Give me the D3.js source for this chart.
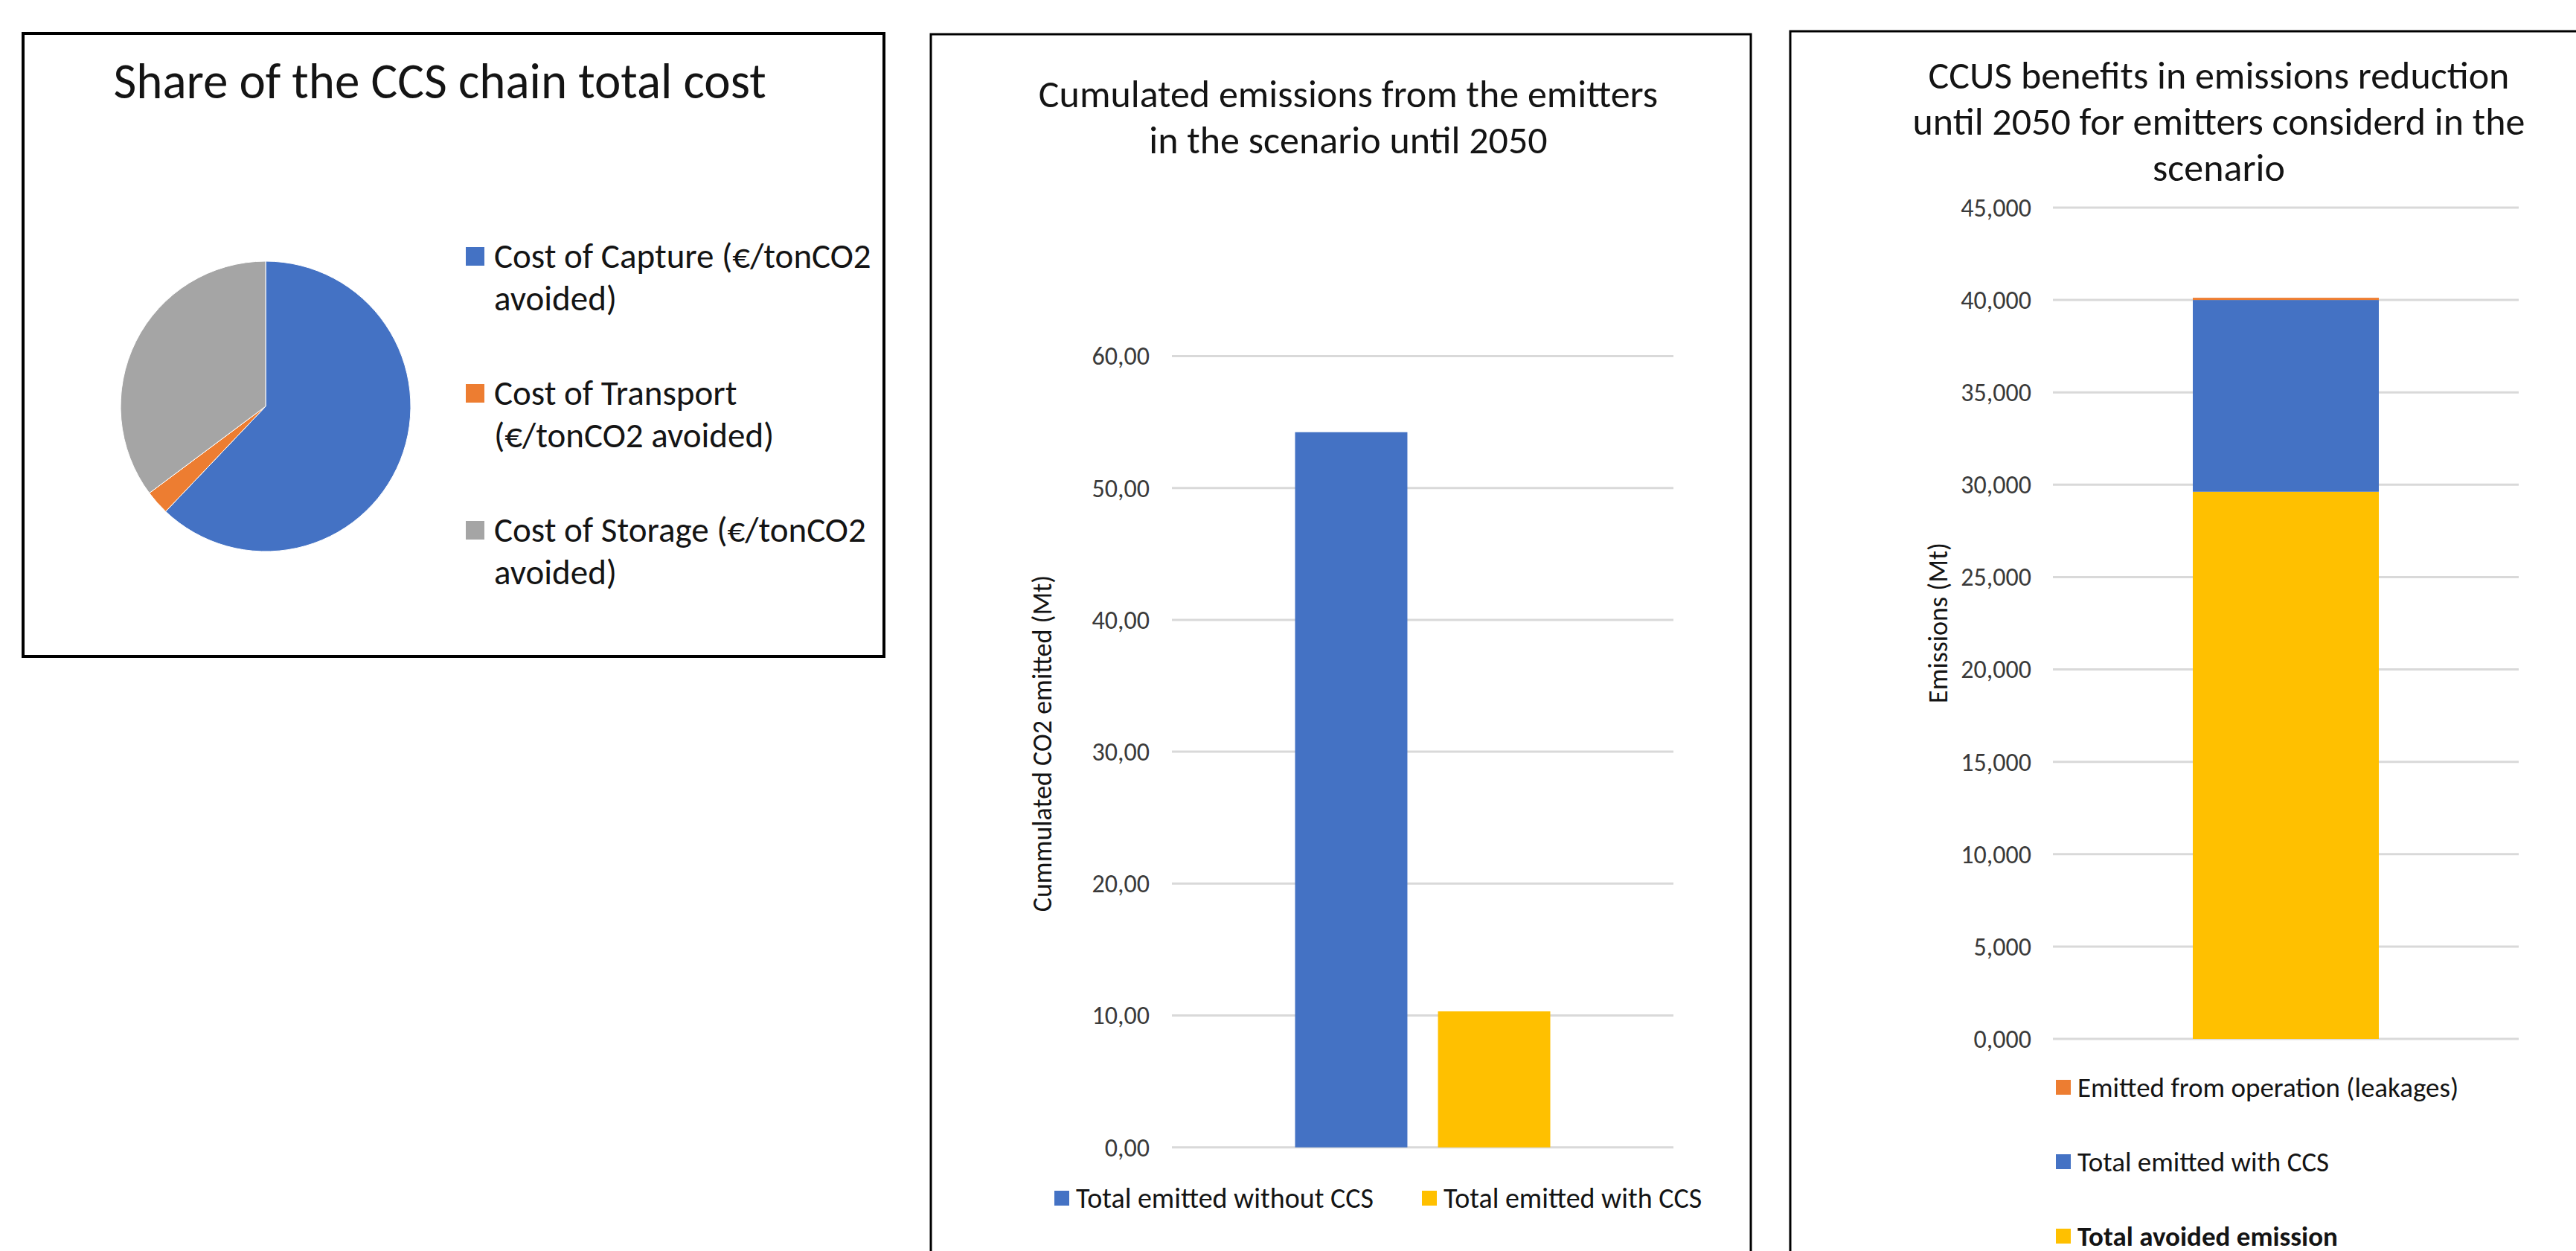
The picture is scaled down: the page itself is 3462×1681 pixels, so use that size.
<!DOCTYPE html>
<html>
<head>
<meta charset="utf-8">
<script src="https://cdn.jsdelivr.net/npm/d3@7"></script>
<style>
    body { margin: 0; background: #fff; }
    text { font-family: Calibri, Carlito, Lato, sans-serif; }
</style>
</head>
<body>
<svg id="chart" width="3462" height="1681"></svg>
<script>
// Share of the CCS chain total cost (pie)
var costLabels = [
    ["Cost of Capture (€/tonCO2", "avoided)"],
    ["Cost of Transport", "(€/tonCO2 avoided)"],
    ["Cost of Storage (€/tonCO2", "avoided)"]
];
var costShares = [62.1, 2.7, 35.2];
var costColors = ["#4472C4", "#ED7D31", "#A5A5A5"];
var costTitle = ["Share of the CCS chain total cost"];

// Cumulated emissions (clustered bars)
var emitSeries = ["Total emitted without CCS", "Total emitted with CCS"];
var emitValues = [54.23, 10.31];
var emitColors = ["#4472C4", "#FFC000"];
var emitTicks = [0, 10, 20, 30, 40, 50, 60];
var emitTitle = ["Cumulated emissions from the emitters", "in the scenario until 2050"];
var emitAxisTitle = "Cummulated CO2 emitted (Mt)";

// CCUS benefits (stacked bar), bottom to top
var benefitSeries = ["Total avoided emission", "Total emitted with CCS", "Emitted from operation (leakages)"];
var benefitValues = [29.62, 10.38, 0.12];
var benefitColors = ["#FFC000", "#4472C4", "#ED7D31"];
var benefitTicks = [0, 5, 10, 15, 20, 25, 30, 35, 40, 45];
var benefitTitle = ["CCUS benefits in emissions reduction", "until 2050 for emitters considerd in the", "scenario"];
var benefitAxisTitle = "Emissions (Mt)";

var textColor = "#141414";
var tickColor = "#3a3a3a";
var gridColor = "#D9D9D9";

var svg = d3.select("#chart");
var euro = d3.formatLocale({decimal: ",", thousands: ".", grouping: [3], currency: ["", " €"]});

function drawTitle(g, lines, cx, y0, lineH, size) {
    g.selectAll("text.title")
        .data(lines)
        .enter()
    .append("text")
        .attr("class", "title")
        .attr("x", cx)
        .attr("y", function (d, i) { return y0 + i * lineH; })
        .attr("dy", "0.35em")
        .attr("text-anchor", "middle")
        .attr("font-size", size)
        .attr("fill", textColor)
        .text(function (d) { return d; });
}

function drawGrid(g, y, ticks, x0, x1, fmt, labelX) {
    g.selectAll("line.grid")
        .data(ticks)
        .enter()
    .append("line")
        .attr("class", "grid")
        .attr("x1", x0)
        .attr("x2", x1)
        .attr("y1", function (d) { return y(d); })
        .attr("y2", function (d) { return y(d); })
        .style("stroke", gridColor)
        .style("stroke-width", 3);
    g.selectAll("text.tick")
        .data(ticks)
        .enter()
    .append("text")
        .attr("class", "tick")
        .attr("x", labelX)
        .attr("y", function (d) { return y(d); })
        .attr("dy", "0.35em")
        .attr("text-anchor", "end")
        .attr("font-size", 34)
        .attr("fill", tickColor)
        .text(function (d) { return fmt(d); });
}

function drawAxisTitle(g, label, x, y) {
    g.append("text")
        .attr("transform", "translate(" + x + "," + y + ") rotate(-90)")
        .attr("dy", "0.35em")
        .attr("text-anchor", "middle")
        .attr("font-size", 36)
        .attr("fill", textColor)
        .text(label);
}

// ---------- Panel 1: pie ----------
var pieGroup = svg.append("g");
pieGroup.append("rect")
    .attr("x", 31).attr("y", 45)
    .attr("width", 1157).attr("height", 837)
    .style("fill", "none")
    .style("stroke", "black")
    .style("stroke-width", 4);
drawTitle(pieGroup, costTitle, 591, 109, 70, 67);

var pieMaker = d3.pie().sort(null);
var pieArc = d3.arc().innerRadius(0).outerRadius(195);
pieGroup.append("g")
    .attr("transform", "translate(357,546)")
    .selectAll("path")
    .data(pieMaker(costShares))
    .enter()
.append("path")
    .attr("d", pieArc)
    .attr("fill", function (d, i) { return costColors[i]; })
    .style("stroke", "#fff")
    .style("stroke-width", 1);

var pieLegend = pieGroup.selectAll("g.legend")
    .data(costLabels)
    .enter()
.append("g")
    .attr("class", "legend")
    .attr("transform", function (d, i) { return "translate(626," + (344 + i * 184) + ")"; });
pieLegend.append("rect")
    .attr("x", 0).attr("y", -12)
    .attr("width", 25).attr("height", 25)
    .attr("fill", function (d, i) { return costColors[i]; });
pieLegend.selectAll("text")
    .data(function (d) { return d; })
    .enter()
.append("text")
    .attr("x", 38)
    .attr("y", function (d, i) { return i * 57; })
    .attr("dy", "0.35em")
    .attr("font-size", 47)
    .attr("fill", textColor)
    .text(function (d) { return d; });

// ---------- Panel 2: clustered bars ----------
var emitGroup = svg.append("g");
emitGroup.append("rect")
    .attr("x", 1251).attr("y", 46)
    .attr("width", 1102).attr("height", 1700)
    .style("fill", "none")
    .style("stroke", "black")
    .style("stroke-width", 3);
drawTitle(emitGroup, emitTitle, 1812, 126, 62, 52);

var emitY = d3.scaleLinear().domain([0, 60]).range([1541.7, 478.5]);
var emitX0 = d3.scaleBand().domain(["2050"]).range([1575, 2249]).paddingOuter(0.4825).paddingInner(0);
var emitX1 = d3.scaleBand().domain(emitSeries).range([0, emitX0.bandwidth()]).paddingInner(0.214);
drawGrid(emitGroup, emitY, emitTicks, 1575, 2249, euro.format(".2f"), 1545);
emitGroup.selectAll("rect.bar")
    .data(emitValues)
    .enter()
.append("rect")
    .attr("class", "bar")
    .attr("x", function (d, i) { return emitX0("2050") + emitX1(emitSeries[i]); })
    .attr("width", emitX1.bandwidth())
    .attr("y", function (d) { return emitY(d); })
    .attr("height", function (d) { return emitY(0) - emitY(d); })
    .attr("fill", function (d, i) { return emitColors[i]; });
drawAxisTitle(emitGroup, emitAxisTitle, 1400, 999);

var emitLegend = emitGroup.selectAll("g.legend")
    .data(emitSeries)
    .enter()
.append("g")
    .attr("class", "legend")
    .attr("transform", function (d, i) { return "translate(" + [1417, 1911][i] + ",1610)"; });
emitLegend.append("rect")
    .attr("x", 0).attr("y", -10)
    .attr("width", 20).attr("height", 20)
    .attr("fill", function (d, i) { return emitColors[i]; });
emitLegend.append("text")
    .attr("x", 29)
    .attr("dy", "0.35em")
    .attr("font-size", 38)
    .attr("fill", textColor)
    .text(function (d) { return d; });

// ---------- Panel 3: stacked bar ----------
var benefitGroup = svg.append("g");
benefitGroup.append("rect")
    .attr("x", 2406).attr("y", 42)
    .attr("width", 1200).attr("height", 1700)
    .style("fill", "none")
    .style("stroke", "black")
    .style("stroke-width", 3);
drawTitle(benefitGroup, benefitTitle, 2982, 101, 62, 52);

var benefitY = d3.scaleLinear().domain([0, 45]).range([1396, 279]);
var benefitX = d3.scaleBand().domain(["2050"]).range([2759, 3385]).paddingOuter(0.752).paddingInner(0);
drawGrid(benefitGroup, benefitY, benefitTicks, 2759, 3385, euro.format(".3f"), 2730);

var row = {};
benefitSeries.forEach(function (s, i) { row[s] = benefitValues[i]; });
var stacked = d3.stack().keys(benefitSeries)([row]);
benefitGroup.selectAll("rect.bar")
    .data(stacked)
    .enter()
.append("rect")
    .attr("class", "bar")
    .attr("x", benefitX("2050"))
    .attr("width", benefitX.bandwidth())
    .attr("y", function (d) { return benefitY(d[0][1]); })
    .attr("height", function (d) { return benefitY(d[0][0]) - benefitY(d[0][1]); })
    .attr("fill", function (d, i) { return benefitColors[i]; });
drawAxisTitle(benefitGroup, benefitAxisTitle, 2604, 837);

// legend lists the top segment first
var legendOrder = benefitSeries.map(function (s, i) { return i; }).reverse();
var benefitLegend = benefitGroup.selectAll("g.legend")
    .data(legendOrder)
    .enter()
.append("g")
    .attr("class", "legend")
    .attr("transform", function (d, i) { return "translate(2763," + (1461 + i * 100) + ")"; });
benefitLegend.append("rect")
    .attr("x", 0).attr("y", -10)
    .attr("width", 20).attr("height", 20)
    .attr("fill", function (d) { return benefitColors[d]; });
benefitLegend.append("text")
    .attr("x", 29)
    .attr("dy", "0.35em")
    .attr("font-size", 37)
    .attr("font-weight", function (d) { return d === 0 ? "bold" : "normal"; })
    .attr("fill", textColor)
    .text(function (d) { return benefitSeries[d]; });
</script>
</body>
</html>
